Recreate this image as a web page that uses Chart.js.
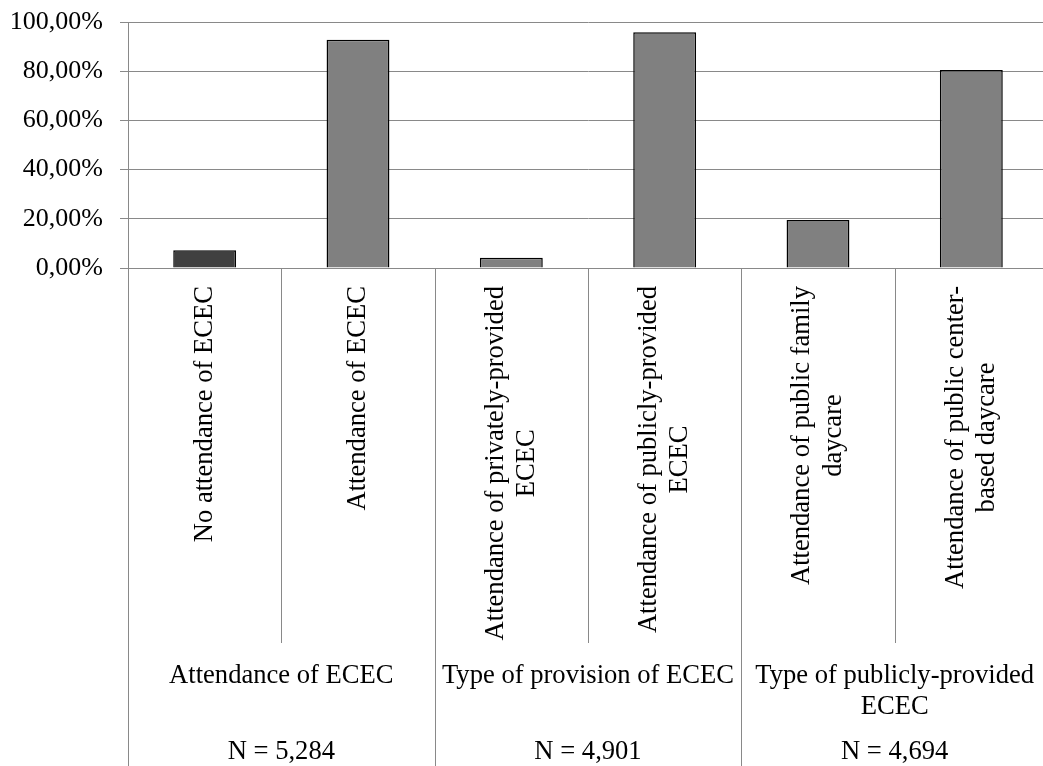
<!DOCTYPE html>
<html>
<head>
<meta charset="utf-8">
<script src="https://cdn.jsdelivr.net/npm/chart.js@4.4.1/dist/chart.umd.min.js"></script>
<style>
  html, body { margin: 0; padding: 0; background: #ffffff; overflow: hidden; }
  #wrap { width: 1043px; height: 766px; overflow: hidden; position: relative; }
  canvas { display: block; }
</style>
</head>
<body>
<div id="wrap"><canvas id="chart" width="1050" height="766"></canvas></div>
<script>
// Category labels (one entry per bar, split into lines)
const categories = [
  ['No attendance of ECEC'],
  ['Attendance of ECEC'],
  ['Attendance of privately-provided', 'ECEC'],
  ['Attendance of publicly-provided', 'ECEC'],
  ['Attendance of public family', 'daycare'],
  ['Attendance of public center-', 'based daycare']
];

// Share of children (%)
const shares = [7.2, 92.8, 4.2, 95.8, 19.5, 80.5];

// Grouping of the categories
const groupLabels = [
  ['Attendance of ECEC'],
  ['Type of provision of ECEC'],
  ['Type of publicly-provided', 'ECEC']
];
const groupSizes = [2, 2, 2];
const groupN = ['N = 5,284', 'N = 4,901', 'N = 4,694'];

// Y axis ticks
const yTicks = [0, 20, 40, 60, 80, 100];

const FONT = "'Liberation Serif', 'Times New Roman', serif";
const GRID = '#898989';

// Multi-level category axis drawn below the plot from the x scale
const multiLevelAxis = {
  id: 'multiLevelAxis',
  afterDraw(chart) {
    const ctx = chart.ctx;
    const xs = chart.scales.x;
    const area = chart.chartArea;
    const H = chart.height;
    const n = categories.length;
    const half = (xs.getPixelForValue(1) - xs.getPixelForValue(0)) / 2;
    const bound = i => xs.getPixelForValue(i) - half;

    // group boundary indices
    const groupEdges = [0];
    groupSizes.forEach(s => groupEdges.push(groupEdges[groupEdges.length - 1] + s));

    const catBottom = 643;
    ctx.save();
    ctx.strokeStyle = GRID;
    ctx.lineWidth = 1;
    for (let i = 0; i <= n; i++) {
      const x = Math.round(bound(i)) + 0.5;
      const isGroup = groupEdges.includes(i);
      ctx.beginPath();
      ctx.moveTo(x, area.bottom);
      ctx.lineTo(x, isGroup ? H : catBottom);
      ctx.stroke();
    }

    // rotated category labels, top-aligned under the axis, lines centred on each other
    ctx.fillStyle = '#000000';
    ctx.font = '26.6px ' + FONT;
    const topY = 286;
    const lh = 31.5;
    categories.forEach((lines, i) => {
      const cx = xs.getPixelForValue(i);
      const w = Math.max(...lines.map(l => ctx.measureText(l).width));
      ctx.save();
      ctx.translate(cx, topY);
      ctx.rotate(-Math.PI / 2);
      ctx.textAlign = 'center';
      ctx.textBaseline = 'middle';
      lines.forEach((l, k) => {
        ctx.fillText(l, -w / 2, (k - (lines.length - 1) / 2) * lh);
      });
      ctx.restore();
    });

    // group labels and sample sizes
    ctx.textAlign = 'center';
    ctx.textBaseline = 'alphabetic';
    groupLabels.forEach((lines, g) => {
      const cx = (bound(groupEdges[g]) + bound(groupEdges[g + 1])) / 2;
      lines.forEach((l, k) => ctx.fillText(l, cx, 682.5 + k * lh));
      ctx.fillText(groupN[g], cx, 759);
    });
    ctx.restore();
  }
};

new Chart(document.getElementById('chart'), {
  type: 'bar',
  data: {
    labels: categories,
    datasets: [{
      data: shares,
      backgroundColor: ctx => ctx.dataIndex === 0 ? '#404040' : '#808080',
      borderColor: '#000000',
      borderWidth: 1.5,
      categoryPercentage: 1,
      barPercentage: 0.41
    }]
  },
  options: {
    responsive: false,
    animation: false,
    layout: { padding: { top: 22, right: 2, left: 0, bottom: 0 } },
    plugins: { legend: { display: false }, tooltip: { enabled: false } },
    scales: {
      x: {
        ticks: { display: false },
        grid: { display: false },
        border: { display: true, color: GRID, width: 1 },
        afterFit: s => { s.height = 498; }
      },
      y: {
        min: 0,
        max: 100,
        afterBuildTicks: s => { s.ticks = yTicks.map(v => ({ value: v })); },
        ticks: {
          font: { family: FONT, size: 26 },
          color: '#000000',
          padding: 17,
          callback: v => v.toFixed(2).replace('.', ',') + '%'
        },
        grid: { color: GRID, lineWidth: 1, tickLength: 8, drawTicks: true },
        border: { display: true, color: GRID, width: 1 },
        afterFit: s => { s.width = 128; s.paddingTop = 0; s.paddingBottom = 0; }
      }
    }
  },
  plugins: [multiLevelAxis]
});
</script>
</body>
</html>
